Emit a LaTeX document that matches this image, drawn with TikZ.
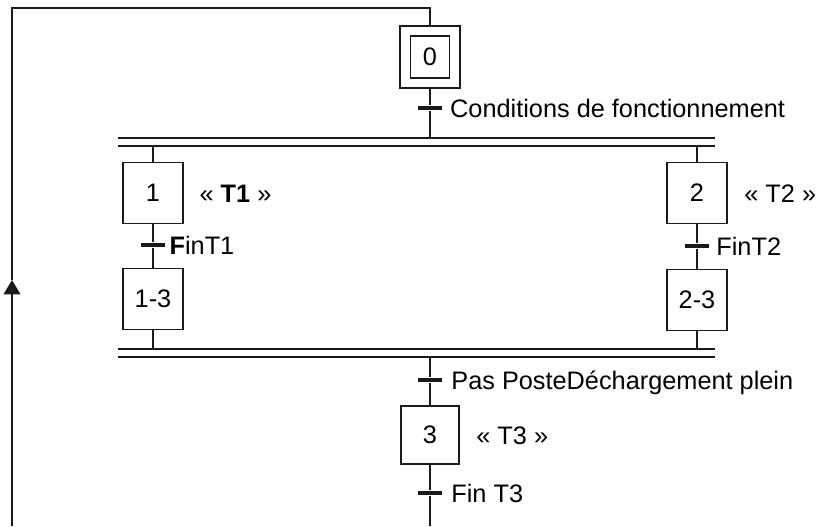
\documentclass[tikz,border=0pt]{standalone}
\usepackage{fontspec}
\setmainfont{Liberation Sans}
\usetikzlibrary{arrows.meta,positioning}
\definecolor{ink}{HTML}{1A1A1A}

\begin{document}
\begin{tikzpicture}[>=Latex,line width=1pt,
  stepbox/.style={draw=ink,minimum width=1.5cm,minimum height=1.525cm,inner sep=0pt,font=\fontsize{18}{20}\selectfont},
  trans/.style={fill=ink,minimum width=0.6cm,minimum height=0.1cm,inner sep=0pt},
  lbl/.style={inner sep=0pt,text height=12.9pt,text depth=0pt,font=\fontsize{18}{20}\selectfont}]
  \useasboundingbox (0,0) rectangle (20.4,-13.15);
  % initial step
  \node[stepbox,minimum width=0.975cm,minimum height=1.05cm] (s0) at (10.75,-1.425) {0};
  \node[draw=ink,minimum width=1.5cm,minimum height=1.55cm] (s0o) at (10.75,-1.425) {};
  \node[trans] (t0) at (10.75,-2.7) {};
  \node[lbl,anchor=west,right=0.17cm of t0] {Conditions de fonctionnement};
  % parallel bars
  \coordinate (ba1) at (2.95,-3.45);  \coordinate (ba2) at (17.875,-3.45);
  \coordinate (bb1) at (2.95,-3.65);  \coordinate (bb2) at (17.875,-3.65);
  \coordinate (bc1) at (2.95,-8.725); \coordinate (bc2) at (17.875,-8.725);
  \coordinate (bd1) at (2.95,-8.925); \coordinate (bd2) at (17.875,-8.925);
  \draw[ink] (ba1) -- (ba2) (bb1) -- (bb2) (bc1) -- (bc2) (bd1) -- (bd2);
  % left branch
  \node[stepbox] (s1) at (3.825,-4.825) {1};
  \node[lbl,anchor=west,right=0.38cm of s1] {« \textbf{T1} »};
  \node[trans] (t1) at (3.825,-6.125) {};
  \node[lbl,anchor=west,right=0.08cm of t1] {\textbf{F}inT1};
  \node[stepbox] (s13) at (3.825,-7.475) {1-3};
  % right branch
  \node[stepbox] (s2) at (17.425,-4.825) {2};
  \node[lbl,anchor=west,right=0.4cm of s2] {« T2 »};
  \node[trans] (t2) at (17.425,-6.15) {};
  \node[lbl,anchor=west,right=0.15cm of t2] {FinT2};
  \node[stepbox] (s23) at (17.425,-7.5) {2-3};
  % common step
  \node[trans] (t3a) at (10.75,-9.5) {};
  \node[lbl,anchor=west,right=0.2cm of t3a] {Pas PosteDéchargement plein};
  \node[stepbox,minimum width=1.45cm,minimum height=1.45cm] (s3) at (10.75,-10.875) {3};
  \node[lbl,anchor=west,right=0.4cm of s3] {« T3 »};
  \node[trans] (t3b) at (10.75,-12.325) {};
  \node[lbl,anchor=west,right=0.2cm of t3b] {Fin T3};
  % links
  \coordinate (bot) at (10.75,-13.15);
  \coordinate (lbot) at (0.3,-13.15);
  \coordinate (larr) at (0.3,-7.0);
  \coordinate (ltop) at (0.3,-0.2);
  \draw[ink] (s0o) -- (t0) -- (t0 |- ba1);
  \draw[ink] (s1.north |- bb1) -- (s1) -- (t1) -- (s13) -- (s13.south |- bc1);
  \draw[ink] (s2.north |- bb1) -- (s2) -- (t2) -- (s23) -- (s23.south |- bc1);
  \draw[ink] (t3a |- bd1) -- (t3a) -- (s3) -- (t3b) -- (bot);
  \draw[ink,-{Triangle[width=0.42cm,length=0.36cm]}] (lbot) -- (larr);
  \draw[ink] (larr) -- (ltop) -| (s0o.north);
\end{tikzpicture}
\end{document}
